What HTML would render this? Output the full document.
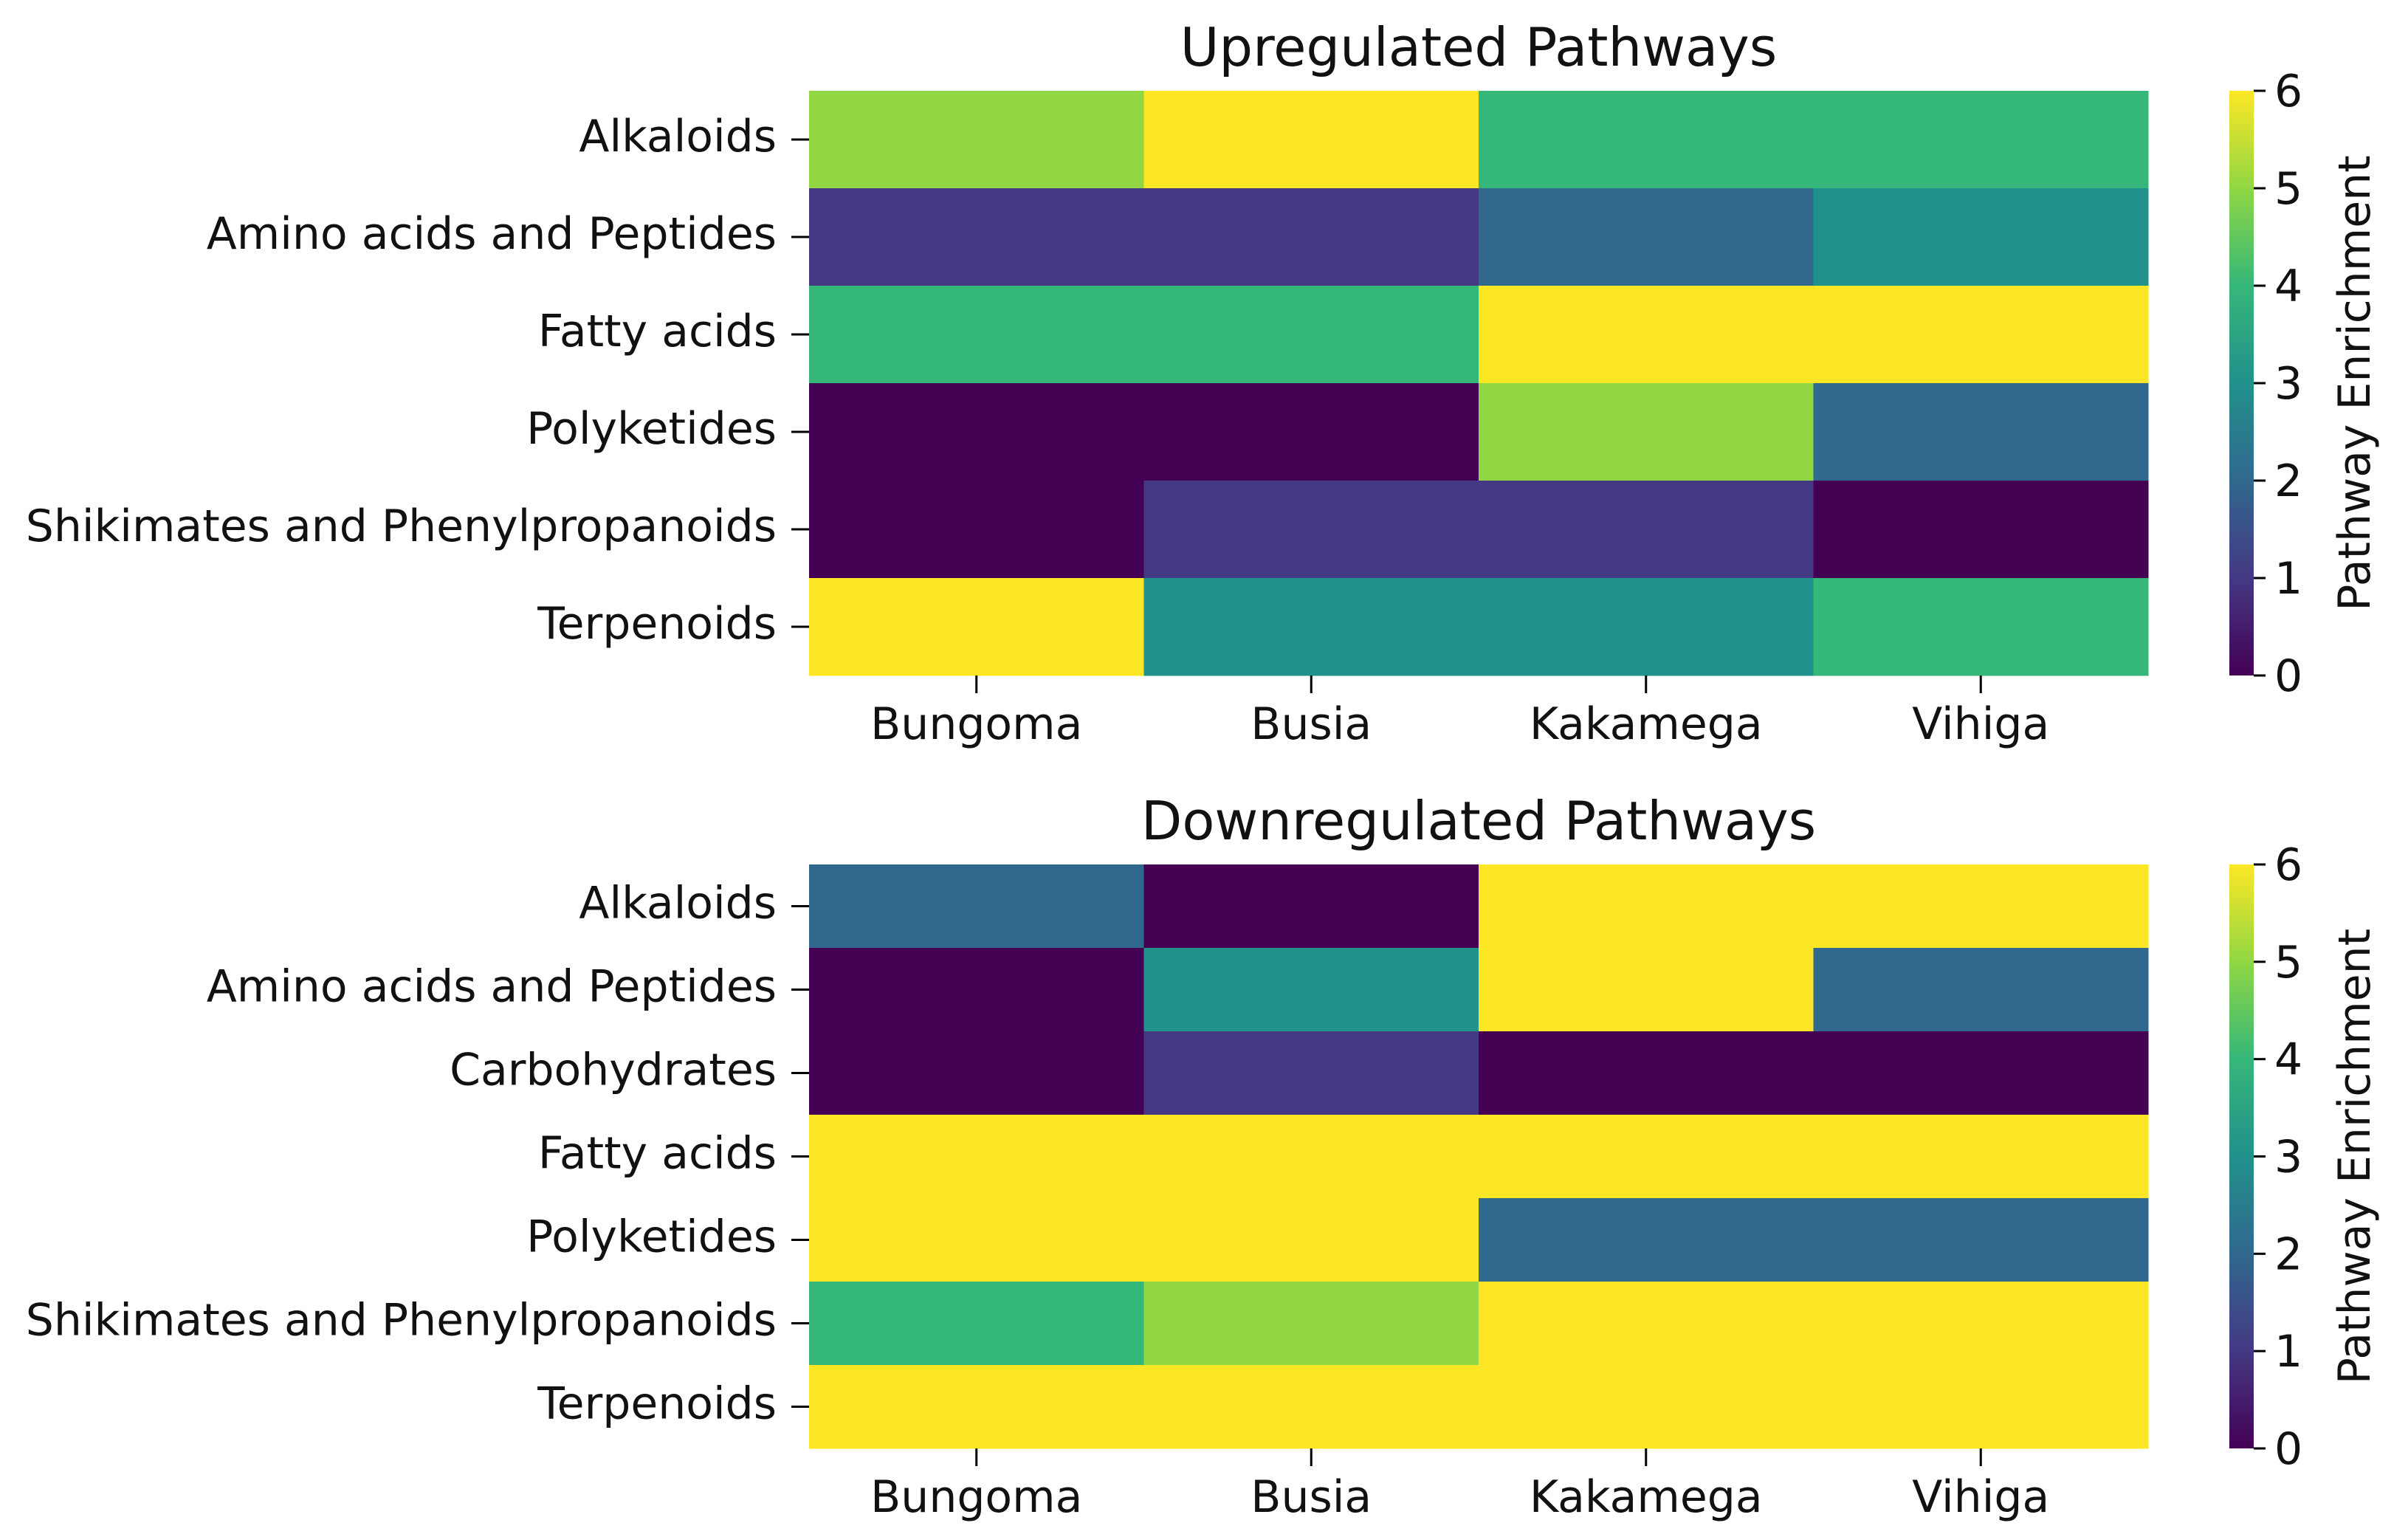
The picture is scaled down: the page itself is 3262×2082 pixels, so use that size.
<!DOCTYPE html>
<html><head><meta charset="utf-8"><style>
html,body{margin:0;padding:0;background:#fff;}
svg{display:block;font-family:"DejaVu Sans","Liberation Sans",sans-serif;}
</style></head><body>
<svg id="chart" width="3262" height="2082" viewBox="0 0 3262 2082" xmlns="http://www.w3.org/2000/svg">
<defs>
<linearGradient id="vir" x1="0" y1="1" x2="0" y2="0">
<stop offset="0" stop-color="#440154"/><stop offset="0.1667" stop-color="#443983"/><stop offset="0.3333" stop-color="#31688e"/><stop offset="0.5" stop-color="#21918c"/><stop offset="0.6667" stop-color="#35b779"/><stop offset="0.8333" stop-color="#90d743"/><stop offset="1" stop-color="#fde725"/>
</linearGradient>
</defs>
</svg>
<script>
const columns = ["Bungoma","Busia","Kakamega","Vihiga"];
const upRows = ["Alkaloids","Amino acids and Peptides","Fatty acids","Polyketides","Shikimates and Phenylpropanoids","Terpenoids"];
const upValues = [[5,6,4,4],[1,1,2,3],[4,4,6,6],[0,0,5,2],[0,1,1,0],[6,3,3,4]];
const downRows = ["Alkaloids","Amino acids and Peptides","Carbohydrates","Fatty acids","Polyketides","Shikimates and Phenylpropanoids","Terpenoids"];
const downValues = [[2,0,6,6],[0,3,6,2],[0,1,0,0],[6,6,6,6],[6,6,2,2],[4,5,6,6],[6,6,6,6]];
const cbTicks = [0,1,2,3,4,5,6];
const vmin = 0, vmax = 6;

const NS = "http://www.w3.org/2000/svg";
const svg = document.getElementById('chart');
const stops = [[68,1,84],[68,57,131],[49,104,142],[33,145,140],[53,183,121],[144,215,67],[253,231,37]];
function viridis(v){
  let t = (v - vmin)/(vmax - vmin)*6; t = Math.max(0, Math.min(6, t));
  const i = Math.min(5, Math.floor(t)), f = t - i;
  const a = stops[i], b = stops[i+1];
  return `rgb(${a.map((c,k)=>Math.round(c+(b[k]-c)*f)).join(',')})`;
}
function el(tag, attrs, parent){
  const e = document.createElementNS(NS, tag);
  for (const k in attrs) e.setAttribute(k, attrs[k]);
  (parent||svg).appendChild(e); return e;
}
const FS = 60;
function panel(name, title, rows, values, y0, y1){
  const x0 = 1096, x1 = 2910;
  const g = el('g', {});
  
  
  const cw = (x1-x0)/columns.length, rh = (y1-y0)/rows.length;
  const xs = j => x0 + j*cw, ys = i => y0 + i*rh;
  values.forEach((row,i)=>row.forEach((v,j)=>{
    const r = el('rect', {x:xs(j), y:ys(i), width:cw+0.5, height:rh+0.5, fill:viridis(v)}, g);
    
    
  }));
  rows.forEach((lab,i)=>{
    const cy = ys(i)+rh/2;
    el('line',{x1:x0-24,x2:x0,y1:cy,y2:cy,stroke:'#000','stroke-width':3},g);
    const t = el('text',{x:x0-44,y:cy+16,'text-anchor':'end','font-size':FS,fill:'#111'},g);
    t.textContent = lab;
    
    
  });
  columns.forEach((lab,j)=>{
    const cx = xs(j)+cw/2;
    el('line',{x1:cx,x2:cx,y1:y1,y2:y1+24,stroke:'#000','stroke-width':3},g);
    const t = el('text',{x:cx,y:y1+86,'text-anchor':'middle','font-size':FS,fill:'#111'},g);
    t.textContent = lab;
    
    
  });
  const tt = el('text',{x:(x0+x1)/2,y:y0-34,'text-anchor':'middle','font-size':72,fill:'#111'},g);
  tt.textContent = title;
  
  
  const cx0 = 3020, cx1 = 3053;
  const cb = el('rect',{x:cx0,y:y0,width:cx1-cx0,height:y1-y0,fill:'url(#vir)'},g);
  
  
  const cy = v => y1 - (v-vmin)/(vmax-vmin)*(y1-y0);
  cbTicks.forEach(v=>{
    el('line',{x1:cx1,x2:cx1+16,y1:cy(v),y2:cy(v),stroke:'#000','stroke-width':3},g);
    const t = el('text',{x:cx1+28,y:cy(v)+21,'font-size':FS,fill:'#111'},g);
    t.textContent = v;
    
    
  });
  const my = (y0+y1)/2;
  const cl = el('text',{x:3210,y:my,'text-anchor':'middle','font-size':FS,fill:'#111',transform:`rotate(-90 3210 ${my})`},g);
  cl.textContent = 'Pathway Enrichment';
  
  
}
panel('upregulated-heatmap','Upregulated Pathways',upRows,upValues,123,915);
panel('downregulated-heatmap','Downregulated Pathways',downRows,downValues,1171,1962);
</script>
</body></html>
